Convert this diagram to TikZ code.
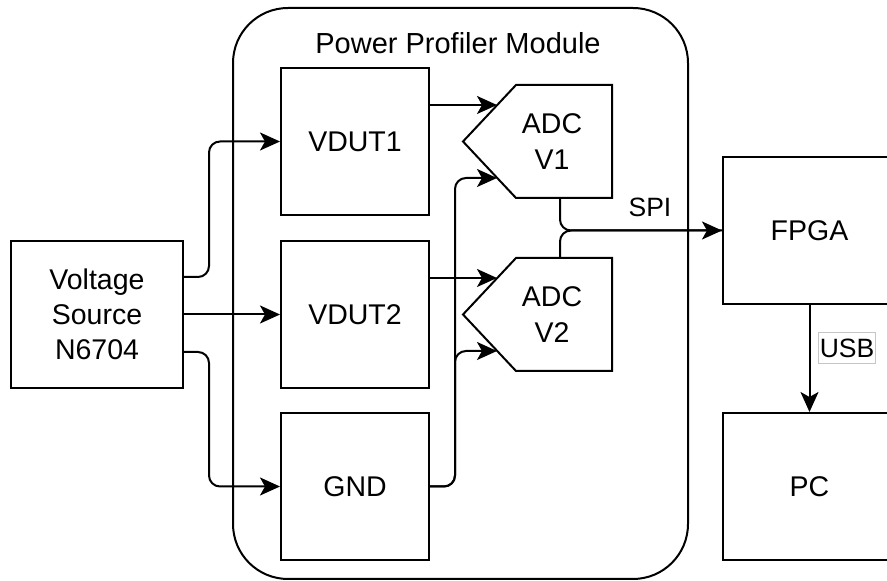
\documentclass[tikz,border=0pt]{standalone}
\usepackage{fontspec}
\setmainfont{Liberation Sans}
\usetikzlibrary{arrows.meta}

\begin{document}
\begin{tikzpicture}[x=1pt,y=1pt,
  box/.style={draw,line width=2pt,minimum width=148pt,minimum height=147pt,inner sep=0pt,align=center,font=\fontsize{28.5}{35}\selectfont},
  adctext/.style={minimum width=120pt,minimum height=113pt,inner sep=0pt,outer sep=0pt,align=center,font=\fontsize{28.5}{36}\selectfont},
  wire/.style={line width=2pt,rounded corners=11pt},
  arr/.style={wire,-{Stealth[length=20pt,width=18pt,inset=5pt]}},
  lbl/.style={font=\fontsize{26.5}{32}\selectfont}]
\clip (0,0) rectangle (887,581);
% module frame
\node[draw,line width=2pt,rounded corners=55pt,minimum width=455pt,minimum height=571pt] (ppm) at (460.5,287.5) {};
\node[font=\fontsize{29}{34}\selectfont] (ppmtitle) at (458,538) {Power Profiler Module};
% blocks
\node[box,minimum width=172pt] (src) at (97,266.5) {Voltage\\Source\\N6704};
\node[box] (vdut1) at (355,439.5) {VDUT1};
\node[box] (vdut2) at (355,266.5) {VDUT2};
\node[box] (gnd) at (355,94.5) {GND};
\node[box,minimum width=173pt] (fpga) at (809.5,350.5) {FPGA};
\node[box,minimum width=173pt] (pc) at (809.5,94.5) {PC};
% converters
\node[adctext] (adc1) at (552,439.5) {ADC\\V1};
\node[adctext] (adc2) at (552,266.5) {ADC\\V2};
\draw[line width=2pt] (adc1.north east) -- (adc1.south east) -- ([xshift=24pt]adc1.south west)
  -- ([xshift=-29pt]adc1.west) -- ([xshift=24pt]adc1.north west) -- cycle;
\draw[line width=2pt] (adc2.north east) -- (adc2.south east) -- ([xshift=24pt]adc2.south west)
  -- ([xshift=-29pt]adc2.west) -- ([xshift=24pt]adc2.north west) -- cycle;
\coordinate (a1in1) at ([shift={(-55,36.5)}]adc1.center);
\coordinate (a1in2) at ([shift={(-55,-36.5)}]adc1.center);
\coordinate (a2in1) at ([shift={(-55,36.5)}]adc2.center);
\coordinate (a2in2) at ([shift={(-55,-36.5)}]adc2.center);
% supply
\draw[arr] ([yshift=37.5pt]src.east) -- ++(25,0) |- (vdut1.west);
\draw[arr] (src.east) -- (vdut2.west);
\draw[arr] ([yshift=-37.5pt]src.east) -- ++(25,0) |- (gnd.west);
% inputs
\draw[arr] ([yshift=36.5pt]vdut1.east) -- (a1in1);
\draw[arr] ([yshift=36.5pt]vdut2.east) -- (a2in1);
\draw[arr] (gnd.east) -- ++(25,0) |- (a1in2);
\draw[arr] (gnd.east) -- ++(25,0) |- (a2in2);
% outputs
\draw[wire] ([xshift=8pt]adc2.north) |- (fpga.west);
\draw[arr] ([xshift=8pt]adc1.south) |- (fpga.west);
\node[lbl] (spi) at (650,373.5) {SPI};
\draw[arr] (fpga.south) -- (pc.north);
\node[lbl,draw=gray!45,line width=0.8pt,fill=white,inner xsep=1.5pt,inner ysep=6.5pt] (usb) at (847,233) {USB};
\end{tikzpicture}
\end{document}
